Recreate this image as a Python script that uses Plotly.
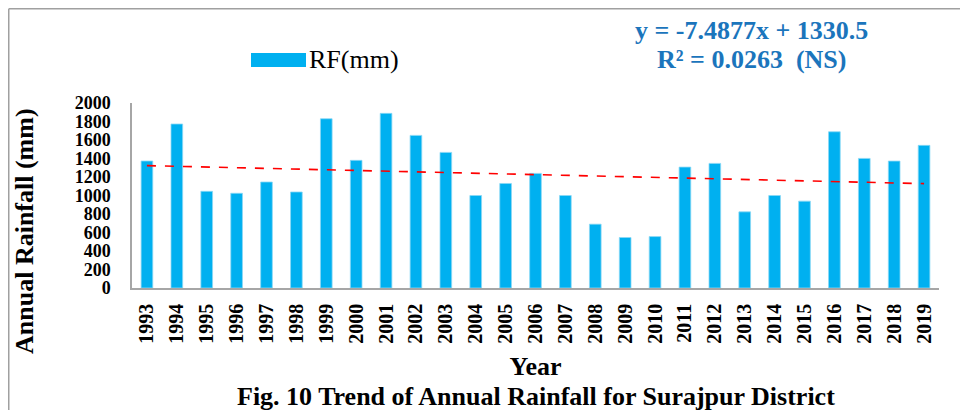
import plotly.graph_objects as go

years = [str(y) for y in range(1993, 2020)]
rainfall_mm = [1373, 1773, 1045, 1024, 1146, 1038, 1830, 1380, 1888, 1650,
               1466, 1000, 1130, 1239, 1000, 690, 546, 556, 1307, 1347,
               823, 1000, 939, 1689, 1401, 1372, 1542]
trend_slope = -7.4877
trend_intercept = 1330.5
y_ticks = list(range(0, 2001, 200))

trend = [trend_slope * (i + 1) + trend_intercept for i in range(len(years))]

FONT = "Liberation Serif, Times New Roman, serif"
BLUE = "#00B0F0"

# plot area in page pixels (page has an 8px body margin)
PX0, PX1, PY0, PY1 = 132, 939, 103, 288
def px(x):
    return (x - PX0) / (PX1 - PX0)
def py(y):
    return (PY1 - y) / (PY1 - PY0)

fig = go.Figure()
fig.add_trace(go.Bar(
    x=years, y=rainfall_mm, name="RF(mm)", showlegend=False,
    marker=dict(color=BLUE, line=dict(color="#8AD8F5", width=0.8)),
))
fig.add_trace(go.Scatter(
    x=years, y=trend, mode="lines", showlegend=False, name="Linear (RF(mm))",
    line=dict(color="#FF0000", width=1.6, dash="dash"),
))

fig.update_layout(
    width=960, height=402,
    margin=dict(l=PX0 - 8, r=960 - (PX1 - 8), t=PY0 - 8, b=402 - (PY1 - 8)),
    paper_bgcolor="white", plot_bgcolor="white",
    bargap=0.61,
    font=dict(family=FONT, color="black"),
    xaxis=dict(
        type="category", tickangle=-90, showgrid=False, automargin=False,
        showline=True, linecolor="#A6A6A6", linewidth=1.5,
        ticks="outside", ticklen=6, tickcolor="rgba(0,0,0,0)",
        tickfont=dict(family=FONT, size=20, color="black", weight="bold"),
        title=dict(text="Year", standoff=14,
                   font=dict(family=FONT, size=26, color="black", weight="bold")),
    ),
    yaxis=dict(
        range=[0, 2000], tickvals=y_ticks, showgrid=False, zeroline=False, automargin=False,
        showline=True, linecolor="#A6A6A6", linewidth=1.5,
        ticks="outside", ticklen=16, tickcolor="rgba(0,0,0,0)",
        tickfont=dict(family=FONT, size=18, color="black", weight="bold"),
    ),
    annotations=[
        dict(text="Annual Rainfall (mm)", xref="paper", yref="paper", textangle=-90,
             x=px(24), y=py(231), xanchor="center", yanchor="middle", showarrow=False,
             font=dict(family=FONT, size=26, color="black", weight="bold")),
        dict(text="RF(mm)", xref="paper", yref="paper",
             x=px(307), y=py(60), xanchor="left", yanchor="middle", showarrow=False,
             font=dict(family=FONT, size=26, color="black")),
        dict(text="y = -7.4877x + 1330.5", xref="paper", yref="paper",
             x=px(751), y=py(30), xanchor="center", yanchor="middle",
             showarrow=False, font=dict(family=FONT, size=26, color="#1B75BC", weight="bold")),
        dict(text="R² = 0.0263 \u00a0(NS)", xref="paper", yref="paper",
             x=px(751), y=py(60), xanchor="center", yanchor="middle",
             showarrow=False, font=dict(family=FONT, size=26, color="#1B75BC", weight="bold")),
        dict(text="Fig. 10 Trend of Annual Rainfall for Surajpur District", xref="paper", yref="paper",
             x=px(536), y=py(396), xanchor="center", yanchor="middle",
             showarrow=False, font=dict(family=FONT, size=26, color="black", weight="bold")),
    ],
    shapes=[
        dict(type="rect", xref="paper", yref="paper",
             x0=px(251), x1=px(306), y0=py(67), y1=py(53),
             fillcolor=BLUE, line=dict(width=0)),
        dict(type="line", xref="paper", yref="paper",
             x0=px(8.75), x1=px(968), y0=py(8.75), y1=py(8.75),
             line=dict(color="#A0A0A0", width=1.5)),
        dict(type="line", xref="paper", yref="paper",
             x0=px(8.75), x1=px(8.75), y0=py(8.75), y1=py(412),
             line=dict(color="#A0A0A0", width=1.5)),
    ],
)

fig.write_html("out.html")
